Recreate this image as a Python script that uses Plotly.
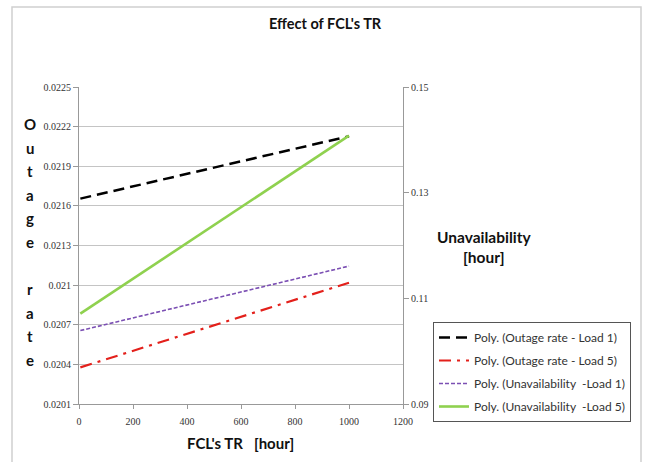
import plotly.graph_objects as go

# ---- data ----
fcl_tr = [5, 1000]
outage_load1 = [0.021655, 0.022127]
outage_load5 = [0.020377, 0.021018]
unavail_load1 = [0.1039, 0.1161]
unavail_load5 = [0.1071, 0.1408]

series_names = [
    "Poly. (Outage rate - Load 1)",
    "Poly. (Outage rate - Load 5)",
    "Poly. (Unavailability  -Load 1)",
    "Poly. (Unavailability  -Load 5)",
]

left_tickvals = [0.0201, 0.0204, 0.0207, 0.0210, 0.0213, 0.0216, 0.0219, 0.0222, 0.0225]
left_ticktext = ["0.0201", "0.0204", "0.0207", "0.021", "0.0213", "0.0216", "0.0219", "0.0222", "0.0225"]
right_tickvals = [0.09, 0.11, 0.13, 0.15]
right_ticktext = ["0.09", "0.11", "0.13", "0.15"]
x_tickvals = [0, 200, 400, 600, 800, 1000, 1200]

# ---- layout geometry (pixels) ----
W, H = 655, 462
L, R, T, B = 79, 403, 87, 404
PW, PH = R - L, B - T


def px(x):
    return (x - L) / PW


def py(y):
    return (B - y) / PH


fig = go.Figure()
fig.add_trace(go.Scatter(x=fcl_tr, y=outage_load1, mode="lines", name=series_names[0],
                         legendgroup="a",
                         line=dict(color="#000000", width=2.5, dash="11px,6px")))
fig.add_trace(go.Scatter(x=fcl_tr, y=outage_load5, mode="lines", name=series_names[1],
                         legendgroup="b",
                         line=dict(color="#e3201b", width=2.2, dash="12px,6px,3px,6px")))
fig.add_trace(go.Scatter(x=fcl_tr, y=unavail_load1, mode="lines", name=series_names[2],
                         legendgroup="c", yaxis="y2",
                         line=dict(color="#7b4fb3", width=1.6, dash="4px,2px")))
fig.add_trace(go.Scatter(x=fcl_tr, y=unavail_load5, mode="lines", name=series_names[3],
                         legendgroup="d", yaxis="y2",
                         line=dict(color="#8fd14f", width=2.6)))

tickfont = dict(family="Liberation Serif", size=10, color="#333333")
bold = "Lato"

fig.update_layout(
    width=W, height=H,
    margin=dict(l=L, r=W - R, t=T, b=H - B),
    paper_bgcolor="white", plot_bgcolor="white",
    showlegend=True,
    xaxis=dict(range=[0, 1200], tickvals=x_tickvals, ticks="outside", ticklen=4,
               tickcolor="#999999", showgrid=False, zeroline=False,
               showline=True, linecolor="#999999", linewidth=1,
               tickfont=tickfont, ticklabelstandoff=4),
    yaxis=dict(range=[0.0201, 0.0225], tickvals=left_tickvals, ticktext=left_ticktext,
               ticks="outside", ticklen=5, tickcolor="#999999",
               showgrid=True, gridcolor="#c4c4c4", gridwidth=1, zeroline=False,
               showline=True, linecolor="#999999", linewidth=1,
               tickfont=tickfont),
    yaxis2=dict(range=[0.09, 0.15], tickvals=right_tickvals, ticktext=right_ticktext,
                overlaying="y", side="right",
                ticks="outside", ticklen=5, tickcolor="#999999",
                showgrid=False, zeroline=False,
                showline=True, linecolor="#999999", linewidth=1,
                tickfont=tickfont),
    legend=dict(x=px(433), y=py(322), xanchor="left", yanchor="top",
                bgcolor="white", bordercolor="#555555", borderwidth=1,
                font=dict(family="Lato", size=12, color="#333333"),
                traceorder="grouped", tracegroupgap=4, itemwidth=30),
)

annotations = [
    dict(text="<b>Effect of FCL's TR</b>", x=px(325), y=py(24),
         font=dict(family=bold, size=14.5, color="#111111")),
    dict(text="<b>FCL's TR   [hour]</b>", x=px(240), y=py(443),
         font=dict(family=bold, size=15, color="#111111")),
    dict(text="<b>Unavailability</b>", x=px(484), y=py(237),
         font=dict(family=bold, size=15.5, color="#111111")),
    dict(text="<b>[hour]</b>", x=px(484), y=py(257),
         font=dict(family=bold, size=15.5, color="#111111")),
]
letters = "Outage rate"
y0, step = 124, 23.6
for i, ch in enumerate(letters):
    if ch == " ":
        continue
    annotations.append(dict(text="<b>" + ch + "</b>", x=px(30), y=py(y0 + i * step),
                            font=dict(family=bold, size=15, color="#111111")))
for a in annotations:
    a.update(xref="paper", yref="paper", showarrow=False, xanchor="center", yanchor="middle")
fig.update_layout(annotations=annotations)

fig.add_shape(type="rect", xref="paper", yref="paper",
              x0=px(12), x1=px(641), y0=py(470), y1=py(7),
              line=dict(color="#d0d0d0", width=1.5), layer="below")

fig.write_html("out.html")
